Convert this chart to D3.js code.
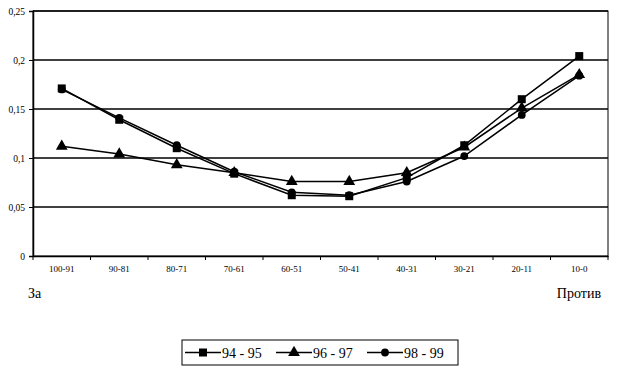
<!DOCTYPE html>
<html>
<head>
<meta charset="utf-8">
<script src="https://cdn.jsdelivr.net/npm/d3@7"></script>
<style>
  body { margin: 0; background: #fff; }
  svg { display: block; }
  svg text { font-family: "Times New Roman", Times, "Liberation Serif", "DejaVu Serif", serif !important; }
</style>
</head>
<body>
<svg id="chart" width="623" height="373"></svg>
<script>
  const categories = ["100-91","90-81","80-71","70-61","60-51","50-41","40-31","30-21","20-11","10-0"];
  const seriesNames = ["94 - 95", "96 - 97", "98 - 99"];
  const values9495 = [0.171, 0.139, 0.110, 0.084, 0.062, 0.061, 0.080, 0.113, 0.160, 0.204];
  const values9697 = [0.112, 0.104, 0.093, 0.085, 0.076, 0.076, 0.085, 0.111, 0.151, 0.185];
  const values9899 = [0.170, 0.141, 0.113, 0.086, 0.065, 0.062, 0.076, 0.102, 0.144, 0.184];
  const yTicks = [0, 0.05, 0.1, 0.15, 0.2, 0.25];

  (function() {
    const series = [
      { name: seriesNames[0], values: values9495, marker: d3.symbolSquare, size: 64 },
      { name: seriesNames[1], values: values9697, marker: d3.symbolTriangle, size: 60 },
      { name: seriesNames[2], values: values9899, marker: d3.symbolCircle, size: 48 }
    ];

    const plotLeft = 33, plotRight = 608, plotTop = 11, plotBottom = 256;
    const svg = d3.select('#chart');

    const x = d3.scaleBand().domain(categories).range([plotLeft, plotRight]);
    const y = d3.scaleLinear().domain([0, 0.25]).range([plotBottom, plotTop]);

    // horizontal grid lines
    svg.append('g')
      .selectAll('line')
      .data(yTicks.slice(1))
      .enter()
      .append('line')
      .attr('x1', plotLeft)
      .attr('x2', plotRight)
      .attr('y1', d => y(d))
      .attr('y2', d => y(d))
      .attr('stroke', '#000')
      .attr('stroke-width', 1.3);

    // frame
    svg.append('rect')
      .attr('x', plotLeft)
      .attr('y', plotTop)
      .attr('width', plotRight - plotLeft)
      .attr('height', plotBottom - plotTop)
      .attr('fill', 'none')
      .attr('stroke', '#000')
      .attr('stroke-width', 1);

    const fmt = d => d === 0 ? '0' : String(d).replace('.', ',');

    const yAxis = svg.append('g')
      .attr('transform', `translate(${plotLeft},0)`)
      .call(d3.axisLeft(y).tickValues(yTicks).tickFormat(fmt).tickSize(4).tickPadding(4));
    yAxis.select('.domain').attr('stroke-width', 1.5);
    yAxis.selectAll('text').attr('font-size', 9.5);

    const xAxis = svg.append('g')
      .attr('transform', `translate(0,${plotBottom})`)
      .call(d3.axisBottom(x).tickSize(0).tickPadding(10));
    xAxis.select('.domain').attr('stroke-width', 1.5);
    xAxis.selectAll('text').attr('font-size', 9);

    // tick marks at band boundaries
    svg.append('g')
      .selectAll('line')
      .data(categories.concat(['end']))
      .enter()
      .append('line')
      .attr('x1', (d, i) => plotLeft + i * x.step())
      .attr('x2', (d, i) => plotLeft + i * x.step())
      .attr('y1', plotBottom)
      .attr('y2', plotBottom + 4)
      .attr('stroke', '#000');

    const line = d3.line()
      .x((d, i) => x(categories[i]) + x.bandwidth() / 2)
      .y(d => y(d));

    series.forEach(s => {
      svg.append('path')
        .attr('d', line(s.values))
        .attr('fill', 'none')
        .attr('stroke', '#000')
        .attr('stroke-width', 1.5);
      svg.append('g')
        .selectAll('path')
        .data(s.values)
        .enter()
        .append('path')
        .attr('d', d3.symbol().type(s.marker).size(s.size))
        .attr('transform', (d, i) => `translate(${x(categories[i]) + x.bandwidth() / 2},${y(d)})`)
        .attr('fill', '#000');
    });

    svg.append('text')
      .attr('x', 28)
      .attr('y', 298)
      .attr('font-size', 14)
      .text('За');

    svg.append('text')
      .attr('x', 601)
      .attr('y', 298)
      .attr('text-anchor', 'end')
      .attr('font-size', 14)
      .text('Против');

    // legend
    const legend = svg.append('g');
    legend.append('rect')
      .attr('x', 182)
      .attr('y', 340)
      .attr('width', 276)
      .attr('height', 25)
      .attr('fill', '#fff')
      .attr('stroke', '#000')
      .attr('stroke-width', 1);

    const legendX = [185, 276, 367];
    series.forEach((s, i) => {
      const g = legend.append('g').attr('transform', `translate(${legendX[i]},352.5)`);
      g.append('line')
        .attr('x1', 0).attr('x2', 36)
        .attr('stroke', '#000').attr('stroke-width', 1.5);
      g.append('path')
        .attr('d', d3.symbol().type(s.marker).size(s.size))
        .attr('transform', 'translate(18,0)')
        .attr('fill', '#000');
      g.append('text')
        .attr('x', 37)
        .attr('y', 5)
        .attr('font-size', 14)
        .text(s.name);
    });
  })();
</script>
</body>
</html>
